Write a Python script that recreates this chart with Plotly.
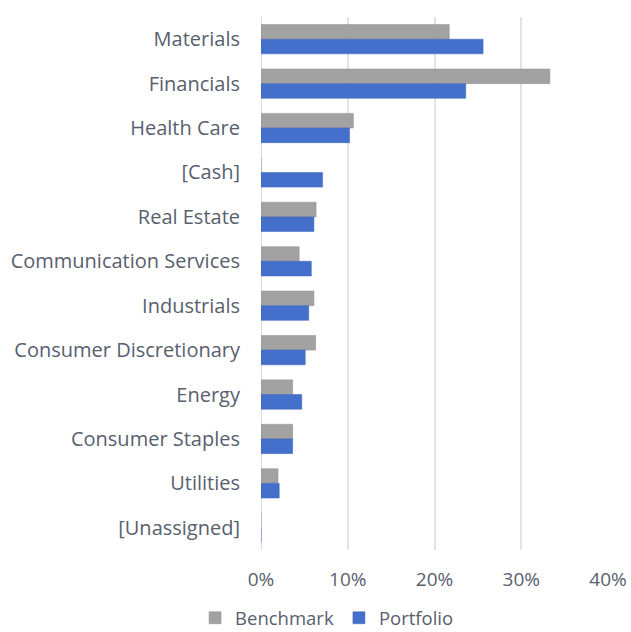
import plotly.graph_objects as go

categories = ["Materials", "Financials", "Health Care", "[Cash]", "Real Estate",
              "Communication Services", "Industrials", "Consumer Discretionary",
              "Energy", "Consumer Staples", "Utilities", "[Unassigned]"]
benchmark = [0.217, 0.333, 0.1065, 0.0, 0.0635, 0.044, 0.061, 0.063, 0.0365, 0.0365, 0.0196, 0.0]
portfolio = [0.256, 0.236, 0.102, 0.071, 0.061, 0.058, 0.055, 0.051, 0.047, 0.0365, 0.021, 0.0]
tick_vals = [0, 0.1, 0.2, 0.3, 0.4]
tick_text = ["0%", "10%", "20%", "30%", "40%"]

FONT = "Open Sans, sans-serif"
TXT = "#58606e"

fig = go.Figure()
fig.add_trace(go.Bar(y=categories, x=benchmark, name="Benchmark", orientation="h",
                     marker=dict(color="#a2a2a2", line=dict(color="#8e8e8e", width=0.5))))
fig.add_trace(go.Bar(y=categories, x=portfolio, name="Portfolio", orientation="h",
                     marker=dict(color="#4470cc", line=dict(color="#3a62b8", width=0.5))))

fig.update_layout(
    width=631, height=632,
    margin=dict(l=261, r=23, t=17, b=82, autoexpand=False),
    paper_bgcolor="white", plot_bgcolor="white",
    barmode="group", bargap=0.34, bargroupgap=0,
    font=dict(family=FONT, size=19, color=TXT),
    showlegend=True,
    legend=dict(orientation="h", x=-0.19, xanchor="left", y=-0.128, yanchor="middle",
                font=dict(size=18.5, color=TXT), itemwidth=30, traceorder="normal"),
    xaxis=dict(range=[0, 0.4], tickvals=tick_vals, ticktext=tick_text,
               showgrid=True, gridcolor="#dfe3ea", gridwidth=2, zeroline=False,
               showline=False, ticks="", ticklabelstandoff=16, fixedrange=True,
               tickfont=dict(size=19)),
    yaxis=dict(categoryorder="array", categoryarray=categories, autorange="reversed",
               showgrid=False, showline=False, ticks="", ticklabelstandoff=20,
               tickfont=dict(size=20)),
)
fig.add_shape(type="line", xref="x", yref="paper", x0=0, x1=0, y0=0, y1=1,
              line=dict(color="#d9dde4", width=2), layer="below")

fig.write_html("out.html")
